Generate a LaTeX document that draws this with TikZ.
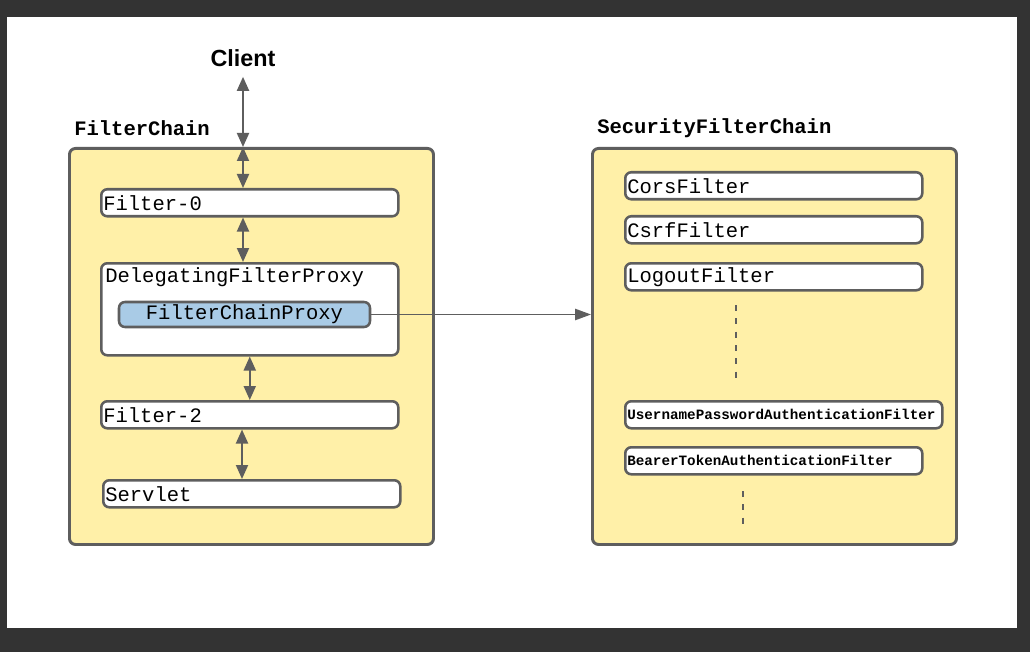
\documentclass[tikz,border=0pt]{standalone}
\usepackage{fontspec}
\setmainfont{Liberation Sans}
\setmonofont{Liberation Mono}
\usetikzlibrary{positioning, arrows.meta}

\definecolor{framegray}{HTML}{333333}
\definecolor{linegray}{HTML}{5E5E5E}
\definecolor{chainyellow}{HTML}{FFF0A8}
\definecolor{proxyblue}{HTML}{A9CBE6}

\tikzset{
  chainbox/.style={draw=linegray, line width=2.2pt, fill=chainyellow,
    rounded corners=4.5pt, anchor=north west, inner sep=0pt,
    minimum width=273pt, minimum height=297pt},
  filterbox/.style={draw=linegray, line width=1.9pt, fill=white,
    rounded corners=4.5pt, anchor=north west, inner xsep=1.5pt, inner ysep=0pt,
    minimum height=20.25pt, text width=#1, align=left,
    font=\ttfamily\fontsize{15.4}{16}\selectfont},
  filterbox/.default=219.75pt,
  smallfilter/.style={filterbox=#1, font=\ttfamily\bfseries\fontsize{10.7}{12}\selectfont},
  title/.style={anchor=west, inner sep=0pt, font=\ttfamily\bfseries\fontsize{15.4}{16}\selectfont},
  flow/.style={draw=linegray, line width=1.5pt,
    {Triangle[width=9pt,length=10.5pt]}-{Triangle[width=9pt,length=10.5pt]}},
  handoff/.style={draw=linegray, line width=1.2pt, -{Triangle[width=8.5pt,length=12pt]}},
  etc/.style={draw=linegray, line width=1.5pt, dash pattern=on 4.5pt off 5.5pt}
}

\begin{document}
\begin{tikzpicture}[x=0.75pt, y=-0.75pt]
  \useasboundingbox (0,0) rectangle (1030,652);
  \fill[framegray] (0,0) rectangle (1030,652);
  \fill[white] (7,17) rectangle (1017,628);

  % client and the servlet filter chain
  \node[font=\bfseries\fontsize{17.5}{20}\selectfont, inner sep=0pt] (client) at (243,58) {Client};
  \node[title] (fctitle) at (74,128) {FilterChain};
  \node[chainbox] (fchain) at (68,147) {};
  \node[filterbox] (f0) at (100,188) {Filter-0};
  \node[draw=linegray, line width=1.9pt, fill=white, rounded corners=4.5pt,
        anchor=north west, inner sep=0pt, minimum width=222.75pt, minimum height=69pt] (dfp) at (100,262) {};
  \node[anchor=west, inner sep=0pt, font=\ttfamily\fontsize{15.4}{16}\selectfont] (dfptext) at (105,277) {DelegatingFilterProxy};
  \node[draw=linegray, line width=1.9pt, fill=proxyblue, rounded corners=4.5pt, inner sep=0pt,
        minimum width=188.25pt, minimum height=18.75pt,
        font=\ttfamily\fontsize{15.4}{16}\selectfont] (fcp) at (244.5,314.5) {FilterChainProxy};
  \node[filterbox] (f2) at (100,400) {Filter-2};
  \node[filterbox] (servlet) at (102,479) {Servlet};

  % security filter chain
  \node[title] (sfctitle) at (597,128) {SecurityFilterChain};
  \node[chainbox] (sfc) at (591,147) {};
  \node[filterbox] (cors) at (624,171) {CorsFilter};
  \node[filterbox] (csrf) at (624,215) {CsrfFilter};
  \node[filterbox] (logout) at (624,262) {LogoutFilter};
  \node[smallfilter=234.75pt] (upaf) at (624,400) {UsernamePasswordAuthenticationFilter};
  \node[smallfilter=219.75pt] (btaf) at (624,446) {BearerTokenAuthenticationFilter};
  \coordinate (etc1a) at (736,305);
  \coordinate (etc1b) at (736,382);
  \coordinate (etc2a) at (743,491);
  \coordinate (etc2b) at (743,528);

  % connectors
  \path[flow] ([yshift=-7.5pt]client.south) -- (client.south |- fchain.north);
  \path[flow] (client.south |- fchain.north) -- (client.south |- f0.north);
  \path[flow] (f0.south -| client.south) -- (dfp.north -| client.south);
  \path[flow] (dfp.south) -- (f2.north);
  \path[flow] ([xshift=-0.75pt]f2.south -| client.south) -- ([xshift=-0.75pt]servlet.north -| client.south);
  \path[handoff] (fcp.east) -- (fcp.east -| sfc.west);
  \path[etc] (etc1a) -- (etc1b);
  \path[etc] (etc2a) -- (etc2b);
\end{tikzpicture}
\end{document}
